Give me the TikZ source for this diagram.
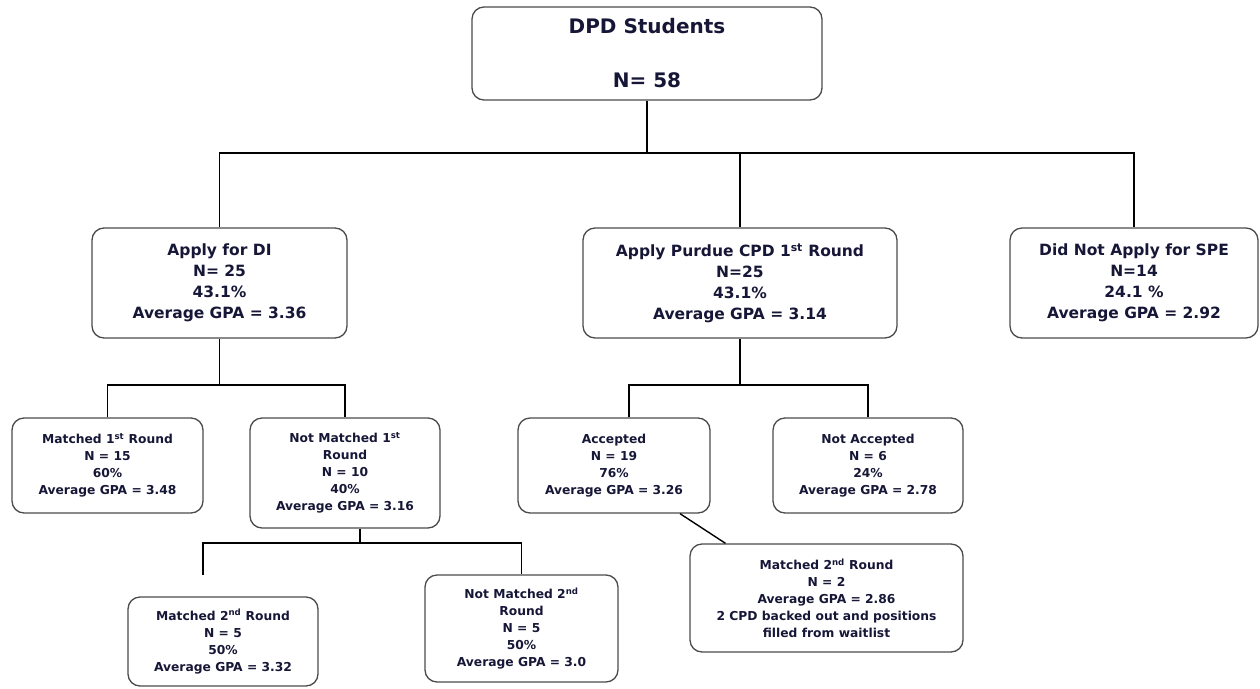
\documentclass[tikz,border=0pt]{standalone}
\usepackage{fontspec}
\setmainfont{DejaVu Sans}
\definecolor{inknavy}{RGB}{22,22,55}
\definecolor{edgegray}{RGB}{75,75,75}

\begin{document}
\begin{tikzpicture}[x=1pt,y=-1pt,
  box/.style={draw=edgegray,line width=1.3pt,rounded corners=12pt,align=center,text=inknavy,inner sep=0pt},
  topbox/.style={box,font=\fontsize{20}{27}\selectfont\bfseries},
  midbox/.style={box,minimum height=110pt,font=\fontsize{15.5}{21}\selectfont\bfseries},
  smallbox/.style={box,font=\fontsize{12.3}{17}\selectfont\bfseries},
  link/.style={line width=1.4pt,black}]
\useasboundingbox (0,0) rectangle (1260,688);
\node[topbox,minimum width=350pt,minimum height=93pt] (dpd) at (647,53.5) {DPD Students\\[27pt]N= 58};
\node[midbox,minimum width=255pt] (di) at (219.5,283) {Apply for DI\\N= 25\\43.1\%\\Average GPA = 3.36};
\node[midbox,minimum width=314pt] (cpd) at (740,283) {Apply Purdue CPD 1\textsuperscript{st} Round\\N=25\\43.1\%\\Average GPA = 3.14};
\node[midbox,minimum width=248pt] (spe) at (1134,283) {Did Not Apply for SPE\\N=14\\24.1 \%\\Average GPA = 2.92};
\node[smallbox,minimum width=191pt,minimum height=95pt] (m1) at (107.5,465.5) {Matched 1\textsuperscript{st} Round\\N = 15\\60\%\\Average GPA = 3.48};
\node[smallbox,minimum width=190pt,minimum height=110pt] (nm1) at (345,473) {Not Matched 1\textsuperscript{st}\\Round\\N = 10\\40\%\\Average GPA = 3.16};
\node[smallbox,minimum width=192pt,minimum height=95pt] (acc) at (614,465.5) {Accepted\\N = 19\\76\%\\Average GPA = 3.26};
\node[smallbox,minimum width=190pt,minimum height=95pt] (nacc) at (868,465.5) {Not Accepted\\N = 6\\24\%\\Average GPA = 2.78};
\node[smallbox,minimum width=273pt,minimum height=108pt] (m2cpd) at (826.5,598) {Matched 2\textsuperscript{nd} Round\\N = 2\\Average GPA = 2.86\\2 CPD backed out and positions\\filled from waitlist};
\node[smallbox,minimum width=190pt,minimum height=89pt] (m2) at (223,641.5) {Matched 2\textsuperscript{nd} Round\\N = 5\\50\%\\Average GPA = 3.32};
\node[smallbox,minimum width=193pt,minimum height=107pt] (nm2) at (521.5,628.5) {Not Matched 2\textsuperscript{nd}\\Round\\N = 5\\50\%\\Average GPA = 3.0};
\coordinate (bus1) at (647,153);
\coordinate (bus2) at (219.5,385);
\coordinate (bus3) at (740,385);
\coordinate (bus4) at (360,543);
\coordinate (m2end) at (203,575);
\draw[link] (dpd.south) -- (bus1);
\draw[link] (di.north) |- (bus1) -| (spe.north);
\draw[link] (cpd.north) -- (cpd.north |- bus1);
\draw[link] (di.south) -- (bus2);
\draw[link] (m1.north) |- (bus2) -| (nm1.north);
\draw[link] (cpd.south) -- (bus3);
\draw[link] ([xshift=15pt]acc.north) |- (bus3) -| (nacc.north);
\draw[link] ([xshift=15pt]nm1.south) -- (bus4);
\draw[link] (m2end) |- (bus4) -| (nm2.north);
\draw[link] ([xshift=66pt]acc.south) -- ([xshift=-101pt]m2cpd.north);
\end{tikzpicture}
\end{document}
